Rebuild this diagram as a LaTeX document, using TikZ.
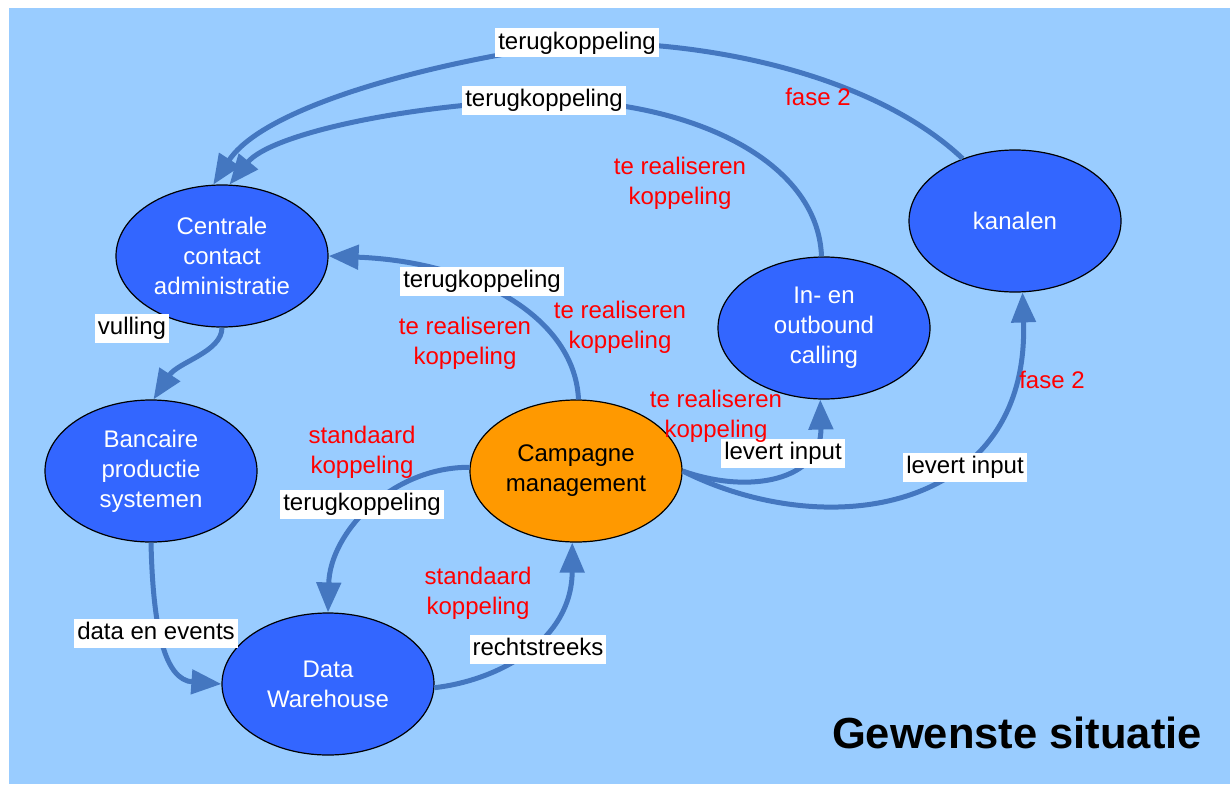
\documentclass[tikz,border=0pt]{standalone}
\usepackage{fontspec}
\setmainfont{Liberation Sans}
\usetikzlibrary{shapes.geometric,arrows.meta}
\definecolor{bgblue}{HTML}{99CCFF}
\definecolor{nodeblue}{HTML}{3366FF}
\definecolor{nodeorange}{HTML}{FF9900}
\definecolor{connblue}{HTML}{4477C0}
\definecolor{redtxt}{HTML}{FF0000}
\begin{document}
\begin{tikzpicture}[x=1pt,y=-1pt,
  ell/.style={ellipse,draw=black,line width=1.2pt,fill=nodeblue,text=white,
    minimum width=212pt,minimum height=142pt,inner sep=0pt,align=center,
    font=\fontsize{24}{30}\selectfont},
  orangeell/.style={ell,fill=nodeorange,text=black},
  link/.style={draw=connblue,line width=5pt,-{Triangle[length=30pt,width=24pt]}},
  lab/.style={fill=white,text=black,inner xsep=3pt,inner ysep=3.5pt,
    text height=17pt,text depth=5pt,font=\fontsize{24}{30}\selectfont},
  rtxt/.style={text=redtxt,align=center,inner sep=0pt,font=\fontsize{24}{30}\selectfont},
]
\useasboundingbox (0,0) rectangle (1230,784);
\fill[white] (0,0) rectangle (1230,784);
\fill[bgblue] (9,8) rectangle (1230,784);

% nodes
\node[ell] (cca) at (222,256) {Centrale\\contact\\administratie};
\node[ell] (ban) at (151,471) {Bancaire\\productie\\systemen};
\node[ell] (dw) at (328,684) {Data\\Warehouse};
\node[orangeell] (cam) at (576,471) {Campagne\\management};
\node[ell] (io) at (824,328) {In- en\\outbound\\calling};
\node[ell] (kan) at (1015,221) {kanalen};

% connectors
\draw[link] (kan.130) .. controls (880,80) and (720,40) .. (577,43)
   .. controls (440,60) and (265,105) .. (cca.97);
\draw[link] (io.92) .. controls (818,160) and (690,100) .. (544,100)
   .. controls (400,105) and (270,135) .. (cca.84);
\draw[link] (cam.88) .. controls (575,320) and (480,262) .. (cca.east);
\draw[link] (cca.south) .. controls (222,352) and (178,362) .. (ban.88);
\draw[link] (ban.south) .. controls (153,630) and (165,680) .. (dw.west);
\draw[link] (cam.178) .. controls (391,467) and (330,533) .. (dw.north);
\draw[link] (dw.-2) .. controls (500,680) and (572,640) .. (cam.267);
\draw[link] (cam.0) .. controls (750,495) and (822,480) .. (io.267);
\draw[link] (cam.0) .. controls (830,545) and (1030,510) .. (kan.276);

% white labels
\node[lab] (l1) at (577,43) {terugkoppeling};
\node[lab] (l2) at (544,100) {terugkoppeling};
\node[lab] (l3) at (482,281) {terugkoppeling};
\node[lab] (l4) at (132,328) {vulling};
\node[lab] (l5) at (362,504) {terugkoppeling};
\node[lab] (l6) at (156,633) {data en events};
\node[lab] (l7) at (538,649) {rechtstreeks};
\node[lab] (l8) at (783,453) {levert input};
\node[lab] (l9) at (965,467) {levert input};

% red texts
\node[rtxt] (r1) at (818,97) {fase 2};
\node[rtxt] (r2) at (680,183) {te realiseren\\koppeling};
\node[rtxt] (r3) at (465,343) {te realiseren\\koppeling};
\node[rtxt] (r4) at (620,327) {te realiseren\\koppeling};
\node[rtxt] (r5) at (716,416) {te realiseren\\koppeling};
\node[rtxt] (r6) at (1052,380) {fase 2};
\node[rtxt] (r7) at (362,452) {standaard\\koppeling};
\node[rtxt] (r8) at (478,593) {standaard\\koppeling};

% title
\node[font=\fontsize{43.5}{50}\selectfont\bfseries,text=black,inner sep=0pt] (title) at (1017,733) {Gewenste situatie};
\end{tikzpicture}
\end{document}
